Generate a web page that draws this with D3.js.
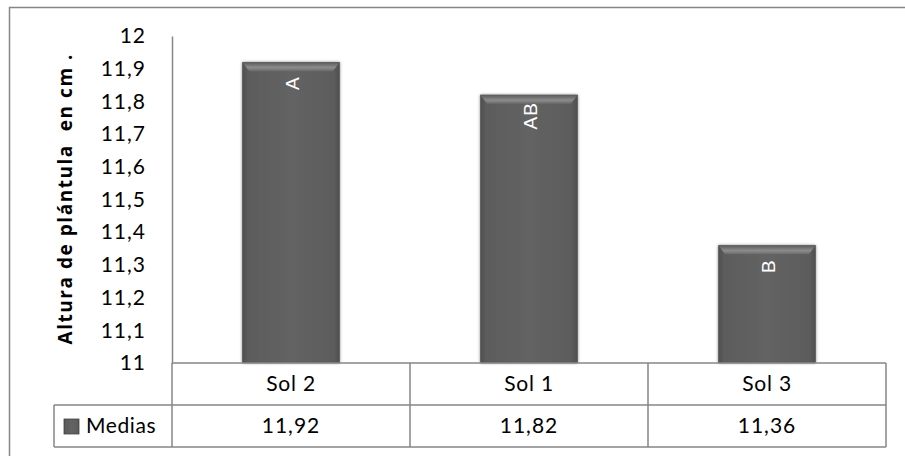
<!DOCTYPE html>
<html>
<head>
<meta charset="utf-8">
<script src="https://cdn.jsdelivr.net/npm/d3@7"></script>
<style>
  body { margin: 0; background: #fff; }
  svg { display: block; }
</style>
</head>
<body>
<svg id="chart" width="905" height="456"></svg>
<script>
const categories = ['Sol 2', 'Sol 1', 'Sol 3'];
const medias = [11.92, 11.82, 11.36];
const letters = ['A', 'AB', 'B'];
const yTicks = [11, 11.1, 11.2, 11.3, 11.4, 11.5, 11.6, 11.7, 11.8, 11.9, 12];
const seriesName = 'Medias';
const yTitle = 'Altura de plántula  en cm .';

const svg = d3.select('#chart');
const font = 'Lato, "Open Sans", sans-serif';
const lineColor = '#868686';

const margin = {top: 36, right: 19, bottom: 93, left: 172};
const width = 905 - margin.left - margin.right;
const plotBottom = 363;

// outer chart frame (cut off at right/bottom)
svg.append('path')
    .attr('d', 'M9.5,456 V7.5 H905')
    .attr('fill', 'none')
    .attr('stroke', lineColor)
    .attr('stroke-width', 1.5);

const defs = svg.append('defs');
const grad = defs.append('linearGradient').attr('id', 'barGrad').attr('x1', 0).attr('x2', 1).attr('y1', 0).attr('y2', 0);
grad.append('stop').attr('offset', '0%').attr('stop-color', '#4e4e4e');
grad.append('stop').attr('offset', '6%').attr('stop-color', '#5c5c5c');
grad.append('stop').attr('offset', '50%').attr('stop-color', '#636363');
grad.append('stop').attr('offset', '94%').attr('stop-color', '#5c5c5c');
grad.append('stop').attr('offset', '100%').attr('stop-color', '#4e4e4e');

const topGrad = defs.append('linearGradient').attr('id', 'topGrad').attr('x1', 0).attr('x2', 0).attr('y1', 0).attr('y2', 1);
topGrad.append('stop').attr('offset', '0%').attr('stop-color', '#5a5a5a');
topGrad.append('stop').attr('offset', '60%').attr('stop-color', '#8c8c8c');
topGrad.append('stop').attr('offset', '100%').attr('stop-color', '#6a6a6a');

const shadow = defs.append('filter').attr('id', 'shadow').attr('x', '-10%').attr('y', '-10%').attr('width', '120%').attr('height', '120%');
shadow.append('feGaussianBlur').attr('in', 'SourceAlpha').attr('stdDeviation', 1.5).attr('result', 'blur');
shadow.append('feComponentTransfer').append('feFuncA').attr('type', 'linear').attr('slope', 0.5);
const merge = shadow.append('feMerge');
merge.append('feMergeNode');
merge.append('feMergeNode').attr('in', 'SourceGraphic');

const x = d3.scaleBand().domain(categories).range([margin.left, margin.left + width]).padding(0);
const xBar = d3.scaleBand().domain(categories).range([margin.left, margin.left + width]).paddingInner(0.59).paddingOuter(0.295);
const y = d3.scaleLinear().domain([11, 12]).range([plotBottom, margin.top]);

// y axis
const yAxis = d3.axisLeft(y).tickValues(yTicks).tickSize(0).tickPadding(26)
    .tickFormat(d => d3.format('.1f')(d).replace('.', ',').replace(/,0$/, ''));
const gy = svg.append('g')
    .attr('transform', `translate(${margin.left},0)`)
    .call(yAxis);
gy.select('.domain').attr('stroke', lineColor).attr('stroke-width', 1.5);
gy.selectAll('text')
    .attr('font-family', font)
    .attr('font-size', 21)
    .attr('letter-spacing', 1)
    .attr('fill', '#000');

svg.append('text')
    .attr('transform', `translate(72,${(margin.top + plotBottom) / 2 + 0}) rotate(-90)`)
    .attr('text-anchor', 'middle')
    .attr('font-family', '"Open Sans", Lato, sans-serif')
    .attr('font-weight', 'bold')
    .attr('font-size', 19)
    .attr('textLength', 290)
    .attr('lengthAdjust', 'spacing')
    .attr('xml:space', 'preserve')
    .text(yTitle);

// bars
const bars = svg.append('g').selectAll('g.bar')
    .data(categories)
    .enter().append('g').attr('class', 'bar');

bars.append('rect')
    .attr('x', d => xBar(d))
    .attr('y', (d, i) => y(medias[i]))
    .attr('width', xBar.bandwidth())
    .attr('height', (d, i) => plotBottom - y(medias[i]))
    .attr('fill', 'url(#barGrad)')
    .attr('filter', 'url(#shadow)');

bars.append('path')
    .attr('d', (d, i) => {
        const x0 = xBar(d), x1 = x0 + xBar.bandwidth(), t = y(medias[i]);
        return `M${x0},${t} H${x1} L${x1 - 7},${t + 9} H${x0 + 7} Z`;
    })
    .attr('fill', 'url(#topGrad)');

bars.append('text')
    .attr('transform', (d, i) => `translate(${xBar(d) + xBar.bandwidth() / 2 + 1},${y(medias[i]) + 21}) rotate(-90)`)
    .attr('text-anchor', 'middle')
    .attr('dy', '0.35em')
    .attr('font-family', '"Liberation Sans", Arial, sans-serif')
    .attr('font-size', 19)
    .attr('fill', '#fff')
    .attr('letter-spacing', 1)
    .text((d, i) => letters[i]);

// data table
const rowCat = [plotBottom, 405];
const rowVal = [405, 447];
const legendLeft = 54;
const right = margin.left + width;

const table = svg.append('g').attr('fill', 'none').attr('stroke', lineColor).attr('stroke-width', 1.5);
table.append('line').attr('x1', margin.left).attr('x2', right).attr('y1', plotBottom).attr('y2', plotBottom);
table.append('line').attr('x1', legendLeft).attr('x2', right).attr('y1', rowVal[0]).attr('y2', rowVal[0]);
table.append('line').attr('x1', legendLeft).attr('x2', right).attr('y1', rowVal[1]).attr('y2', rowVal[1]);
table.append('line').attr('x1', legendLeft).attr('x2', legendLeft).attr('y1', rowVal[0]).attr('y2', rowVal[1]);
table.selectAll('line.col')
    .data(categories.concat(['end']))
    .enter().append('line')
    .attr('class', 'col')
    .attr('x1', (d, i) => i < categories.length ? x(d) : right)
    .attr('x2', (d, i) => i < categories.length ? x(d) : right)
    .attr('y1', plotBottom)
    .attr('y2', rowVal[1]);

svg.append('g').selectAll('text')
    .data(categories)
    .enter().append('text')
    .attr('x', d => x(d) + x.bandwidth() / 2)
    .attr('y', (rowCat[0] + rowCat[1]) / 2)
    .attr('dy', '0.35em')
    .attr('text-anchor', 'middle')
    .attr('font-family', font)
    .attr('font-size', 21)
    .attr('letter-spacing', 0.8)
    .text(d => d);

svg.append('g').selectAll('text')
    .data(medias)
    .enter().append('text')
    .attr('x', (d, i) => x(categories[i]) + x.bandwidth() / 2)
    .attr('y', (rowVal[0] + rowVal[1]) / 2)
    .attr('dy', '0.35em')
    .attr('text-anchor', 'middle')
    .attr('font-family', font)
    .attr('font-size', 21)
    .attr('letter-spacing', 1)
    .text(d => d3.format('.2f')(d).replace('.', ','));

// legend key
svg.append('rect')
    .attr('x', 64).attr('y', 419)
    .attr('width', 15).attr('height', 15)
    .attr('fill', 'url(#barGrad)')
    .attr('stroke', '#444')
    .attr('stroke-width', 0.8);

svg.append('text')
    .attr('x', 86)
    .attr('y', (rowVal[0] + rowVal[1]) / 2)
    .attr('dy', '0.35em')
    .attr('font-family', font)
    .attr('font-size', 21)
    .attr('letter-spacing', 0.6)
    .text(seriesName);
</script>
</body>
</html>
